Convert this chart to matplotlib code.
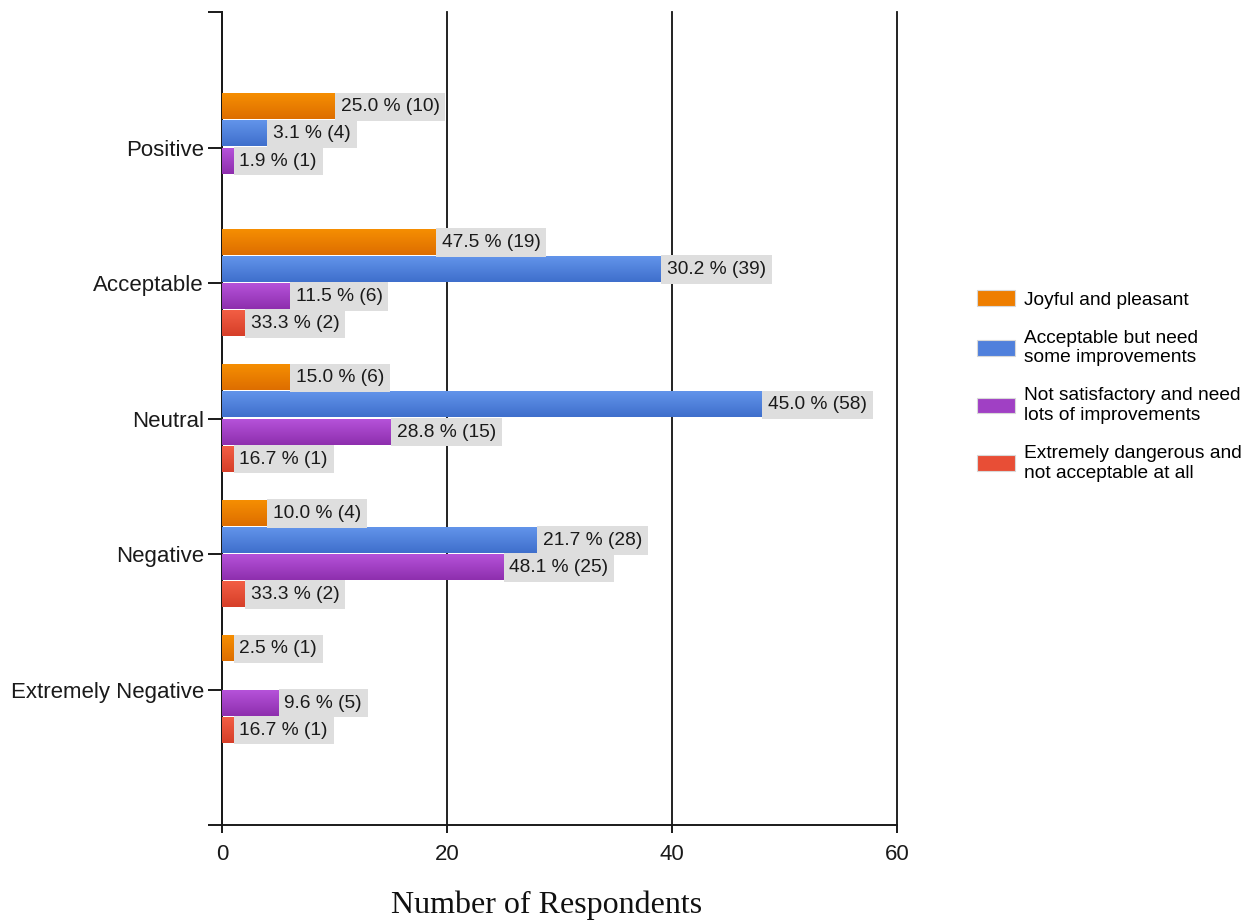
import numpy as np
import matplotlib
matplotlib.use("Agg")
import matplotlib.pyplot as plt
from matplotlib.colors import to_rgb
from matplotlib.patches import Patch

categories = ["Positive", "Acceptable", "Neutral", "Negative", "Extremely Negative"]
series_names = ["Joyful and pleasant",
                "Acceptable but need\nsome improvements",
                "Not satisfactory and need\nlots of improvements",
                "Extremely dangerous and\nnot acceptable at all"]
# bar lengths as drawn in the picture
bar_values = {
    "joyful":      [10, 19, 6, 4, 1],
    "acceptable":  [4, 39, 48, 28, 0],
    "unsatisfied": [1, 6, 15, 25, 5],
    "dangerous":   [0, 2, 1, 2, 1],
}
# counts as printed in the labels
label_counts = {
    "joyful":      [10, 19, 6, 4, 1],
    "acceptable":  [4, 39, 58, 28, 0],
    "unsatisfied": [1, 6, 15, 25, 5],
    "dangerous":   [0, 2, 1, 2, 1],
}
percents = {
    "joyful":      [25.0, 47.5, 15.0, 10.0, 2.5],
    "acceptable":  [3.1, 30.2, 45.0, 21.7, 0.0],
    "unsatisfied": [1.9, 11.5, 28.8, 48.1, 9.6],
    "dangerous":   [0.0, 33.3, 16.7, 33.3, 16.7],
}
series_keys = ["joyful", "acceptable", "unsatisfied", "dangerous"]
x_ticks = [0, 20, 40, 60]
x_label = "Number of Respondents"

top_colors = ["#F68E02", "#6294EA", "#B552D9", "#F25E44"]
bot_colors = ["#DD6E00", "#3F6FCC", "#8E2FAE", "#D63F29"]
mid_colors = ["#EE7E00", "#5080DC", "#A040C4", "#E84E36"]

fig = plt.figure(figsize=(12.5, 9.21), dpi=100)
ax = fig.add_axes([222/1250, 1-825/921, (897-222)/1250, (825-12)/921])

y_pos = np.arange(1, len(categories) + 1)
offsets = [-0.3, -0.1, 0.1, 0.3]
bar_h = 0.185

label_font = "Liberation Sans"

for k, key in enumerate(series_keys):
    bars = ax.barh(y_pos + offsets[k], bar_values[key], height=bar_h,
                   color=mid_colors[k], zorder=3, linewidth=0)
    c_top = np.array(to_rgb(top_colors[k]))
    c_bot = np.array(to_rgb(bot_colors[k]))
    grad = np.linspace(0, 1, 32)[:, None, None]
    img = c_top[None, None, :] * (1 - grad) + c_bot[None, None, :] * grad
    for b, v, p in zip(bars, label_counts[key], percents[key]):
        if v == 0:
            continue
        x0, y0, w, h = b.get_x(), b.get_y(), b.get_width(), b.get_height()
        ax.imshow(img, extent=(x0, x0 + w, y0 + h, y0), aspect="auto",
                  origin="upper", zorder=4, interpolation="bilinear")
        ax.annotate(f"{p:.1f} % ({v})", xy=(x0 + w, y0 + h / 2),
                    xytext=(4.4, 0), textcoords="offset points",
                    ha="left", va="center", fontsize=13.8, family=label_font,
                    color="#1a1a1a", zorder=5,
                    bbox=dict(boxstyle="square,pad=0.3", fc="#DEDEDE",
                              ec="none"))

ax.set_xlim(0, 60)
ax.set_ylim(6, 0)
ax.set_xticks(x_ticks)
ax.set_xticklabels([str(t) for t in x_ticks], family=label_font, fontsize=16)
ax.set_yticks([0] + list(y_pos) + [6])
ax.set_yticklabels([""] + categories + [""], family=label_font, fontsize=16)
ax.tick_params(axis="y", length=10, width=1.4, pad=3, colors="#1a1a1a")
ax.tick_params(axis="x", length=6, width=1.4, pad=8, colors="#1a1a1a")

for s in ["top", "right"]:
    ax.spines[s].set_visible(False)
for s in ["left", "bottom"]:
    ax.spines[s].set_linewidth(1.4)
    ax.spines[s].set_color("#1a1a1a")

ax.xaxis.grid(True, color="#111111", linewidth=1.3, zorder=1)
ax.set_axisbelow(True)
for gl in ax.get_xgridlines():
    gl.set_clip_on(False)

fig.text(547/1250, 1-905/921, x_label, ha="center", va="center",
         family="Liberation Serif", fontsize=23, color="#111111")

handles = [Patch(facecolor=mid_colors[k], edgecolor="#d8d8d8", linewidth=0.8)
           for k in range(4)]
leg = fig.legend(handles, series_names, loc="upper left",
                 bbox_to_anchor=(977/1250, 1-290/921), frameon=False,
                 prop={"family": label_font, "size": 13.8},
                 handlelength=2.0, handleheight=0.9, handletextpad=0.45,
                 labelspacing=1.1, borderpad=0, borderaxespad=0)

fig.savefig("out.png", dpi=100)
